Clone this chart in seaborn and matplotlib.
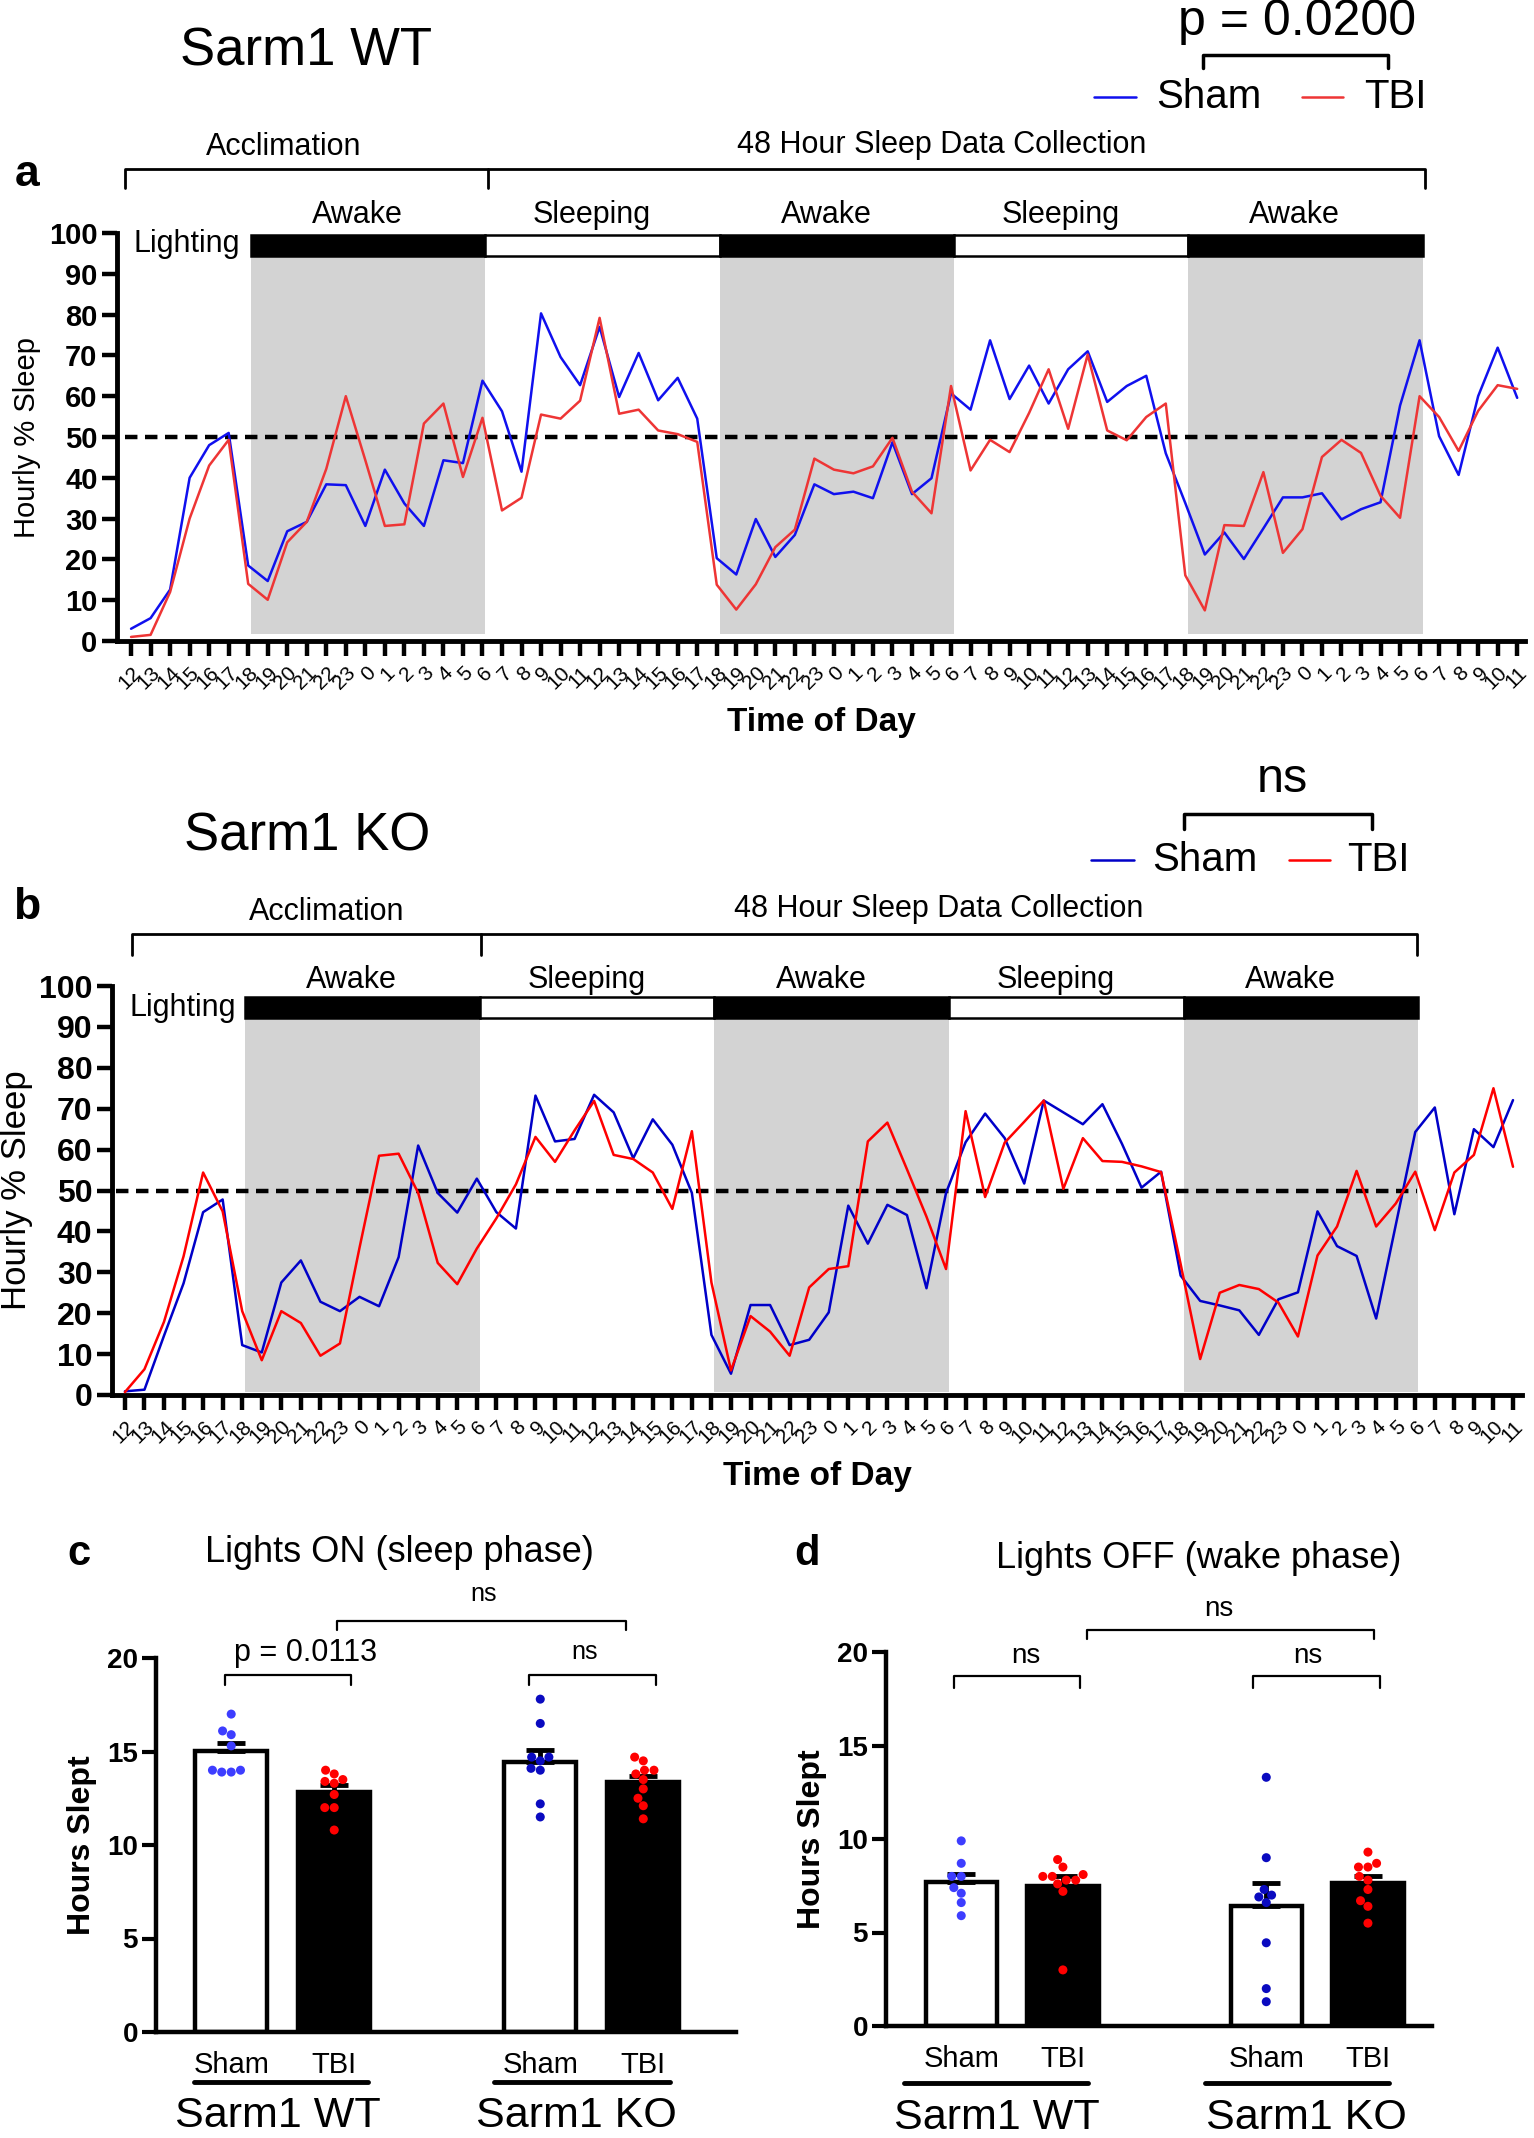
import numpy as np
import pandas as pd
import seaborn as sns
import matplotlib.pyplot as plt
import matplotlib.transforms as mtransforms
from matplotlib.patches import Rectangle
from matplotlib.lines import Line2D

# --- Data ---
HOURS = list(range(12, 24)) + list(range(24)) + list(range(24)) + list(range(12))

SHAM_WT = [3, 5.6, 12.6, 40, 48, 51, 18.5, 14.7, 26.9, 29.2, 38.4, 38.2, 28.2, 42, 33.7, 28.2, 44.3, 43.6,
           63.8, 56.3, 41.5, 80.3, 69.6, 62.7, 77, 59.8, 70.6, 59, 64.5, 54.5, 20.3, 16.3, 29.9, 20.6, 26, 38.4,
           36, 36.6, 35, 48.7, 36, 39.9, 60.7, 56.7, 73.7, 59.3, 67.5, 58.2, 66.6, 71, 58.6, 62.5, 65, 46,
           33.8, 21.2, 26.6, 20.1, 27.6, 35.2, 35.2, 36.2, 29.8, 32.3, 34, 57.7, 73.7, 50.2, 40.7, 60, 71.9, 59.6]
TBI_WT = [1, 1.5, 12, 30, 43, 49.3, 14, 10.1, 24.2, 29.2, 42.2, 60, 44.3, 28.2, 28.6, 53.3, 58.2, 40.2,
          54.7, 32, 35.1, 55.5, 54.5, 58.9, 79.2, 55.7, 56.7, 51.6, 50.7, 48.8, 13.8, 7.7, 13.9, 23, 27.3, 44.7,
          42, 41.1, 42.8, 49.8, 36.6, 31.3, 62.5, 41.8, 49.3, 46.3, 55.9, 66.6, 52, 70.2, 51.6, 49.2, 54.9, 58.2,
          16.1, 7.5, 28.4, 28.2, 41.4, 21.6, 27.4, 45.1, 49.3, 46.1, 35.6, 30.2, 60, 54.9, 46.6, 56.4, 62.7, 61.8]
SHAM_KO = [0.9, 1.3, 14.5, 27.3, 44.7, 47.8, 12.2, 10.4, 27.5, 32.9, 22.8, 20.5, 24, 21.7, 33.7, 61, 49.4, 44.6,
           52.9, 44.7, 40.7, 73.2, 62, 62.6, 73.4, 69.1, 57.9, 67.4, 61.2, 49.4, 14.7, 5.2, 22, 22, 12.2, 13.5,
           20.2, 46.3, 37, 46.5, 44, 26.1, 49.4, 61.8, 68.8, 62.8, 51.7, 72, 69.1, 66.2, 71.1, 61.4, 50.7, 54.6,
           29.2, 23, 21.9, 20.7, 14.7, 23.4, 25.1, 44.9, 36.4, 34, 18.7, 41.5, 64.3, 70.3, 44.2, 65, 60.6, 72.1]
TBI_KO = [0.7, 6.3, 17.9, 33.9, 54.4, 44.9, 20.5, 8.5, 20.5, 17.6, 9.6, 12.6, 36, 58.5, 59, 49.4, 32.3, 27.1,
          35.8, 43.2, 51.5, 63.1, 57, 64.7, 71.9, 58.7, 57.7, 54.4, 45.5, 64.5, 27.5, 6, 19.3, 15.5, 9.6, 26.3,
          30.8, 31.5, 62, 66.6, 55.2, 43.6, 30.8, 69.4, 48.4, 61.7, 66.8, 72, 50.4, 62.8, 57.2, 57, 55.9, 54.5,
          32, 8.8, 25, 26.9, 25.9, 22.6, 14.3, 34.1, 41.2, 54.8, 41.2, 46.8, 54.6, 40.3, 54.4, 58.7, 75, 55.8]

PHASES = ["Awake", "Sleeping", "Awake", "Sleeping", "Awake"]

# hours slept per mouse
ON_WT_SHAM = [17.0, 16.1, 15.9, 15.3, 13.9, 14.0, 13.9, 14.0]
ON_WT_TBI = [13.8, 14.0, 13.5, 13.4, 13.3, 12.7, 12.0, 12.0, 10.8]
ON_KO_SHAM = [17.8, 16.5, 14.7, 14.7, 14.5, 14.0, 14.1, 12.2, 11.5]
ON_KO_TBI = [14.5, 14.7, 14.0, 14.0, 13.8, 13.5, 13.0, 12.5, 12.1, 11.4]
OFF_WT_SHAM = [9.9, 8.7, 8.0, 8.0, 7.4, 7.1, 6.6, 5.9]
OFF_WT_TBI = [8.1, 8.5, 8.9, 7.8, 8.0, 8.0, 7.8, 7.2, 7.6, 3.0]
OFF_KO_SHAM = [13.3, 9.0, 7.3, 7.0, 6.9, 6.6, 4.45, 2.0, 1.3]
OFF_KO_TBI = [9.3, 8.7, 8.5, 8.5, 7.8, 8.0, 7.3, 6.7, 6.4, 5.5]

ORDER = ["WT Sham", "WT TBI", "", "KO Sham", "KO TBI"]
TICK_NAMES = ["Sham", "TBI", "", "Sham", "TBI"]

# --- Figure setup ---
sns.set_theme(style="ticks", rc={"axes.edgecolor": "black", "xtick.color": "black",
                                 "ytick.color": "black", "text.color": "black", "axes.labelcolor": "black"})
plt.rcParams['font.family'] = ['Liberation Sans', 'DejaVu Sans']

W, H = 1534, 2138
fig = plt.figure(figsize=(W / 100, H / 100), dpi=100)


def px_axes(left, top, right, bottom):
    return fig.add_axes([left / W, 1 - bottom / H, (right - left) / W, (bottom - top) / H])


def ftext(x, y, s, **kw):
    fig.text(x / W, 1 - y / H, s, **kw)


def fline(xs, ys, **kw):
    fig.add_artist(Line2D([x / W for x in xs], [1 - y / H for y in ys], **kw))


def time_panel(ax, sham, tbi, colors, opts):
    n = len(HOURS)
    df = pd.DataFrame({"pos": np.arange(n), "Sham": sham, "TBI": tbi})
    df = df.melt(id_vars="pos", var_name="group", value_name="sleep")

    start = 6.15
    grey_lo, grey_hi = opts["grey"]
    bar_lo, bar_hi = opts["bar"]
    for k, name in enumerate(PHASES):
        x0 = start + 12 * k
        if name == "Awake":
            ax.fill_between([x0, x0 + 12], grey_lo, grey_hi, color="#d3d3d3", lw=0, zorder=0)
        ax.add_patch(Rectangle((x0, bar_lo), 12, bar_hi - bar_lo,
                               facecolor="black" if name == "Awake" else "white",
                               edgecolor="black", lw=1.8, clip_on=False, zorder=3))
        ax.text(x0 + 5.45, opts["phase_y"], name, ha="center", va="center", fontsize=22, clip_on=False)
    ax.text(opts["light_x"], opts["light_y"], "Lighting", ha="left", va="center", fontsize=22)

    ax.plot(opts["dash"], [50, 50], color="black", lw=3.2, ls="--", dashes=(2.8, 1.7), zorder=2)

    sns.lineplot(data=df, x="pos", y="sleep", hue="group", palette=colors, lw=1.8,
                 legend=False, ax=ax, zorder=4)

    ax.set_xlim(opts["xlim"])
    ax.set_ylim(0, 100)
    ax.set_yticks(range(0, 101, 10))
    ax.set_xticks(np.arange(n))
    ax.set_xticklabels(HOURS, rotation=45, ha="right", va="top", rotation_mode="anchor", fontsize=15)
    for lab in ax.get_yticklabels():
        lab.set_fontweight("bold")
        lab.set_fontsize(opts["ytick_fs"])
    ax.tick_params(axis="both", direction="out", length=11, width=3.2)
    ax.tick_params(axis="x", pad=5)
    ax.tick_params(axis="y", pad=3)
    for side in ["top", "right"]:
        ax.spines[side].set_visible(False)
    for side in ["left", "bottom"]:
        ax.spines[side].set_linewidth(3.5)

    ax.set_xlabel("Time of Day", fontsize=24, fontweight="bold")
    ax.xaxis.set_label_coords(0.5, opts["xlabel_y"])
    ax.xaxis.label.set_verticalalignment("center")
    ax.set_ylabel("Hourly % Sleep", fontsize=opts["ylabel_fs"])
    ax.yaxis.set_label_coords(opts["ylabel_x"], 0.5)
    ax.yaxis.label.set_verticalalignment("center")

    # acclimation / collection brackets
    tr = mtransforms.blended_transform_factory(ax.transData, ax.transAxes)
    a0, a1, a2 = opts["brk_x"]
    by, bt = opts["brk_y"]
    ax.plot([a0, a0, a1], [bt, by, by], color="black", lw=2, transform=tr, clip_on=False)
    ax.plot([a1, a1, a2, a2], [bt, by, by, bt], color="black", lw=2, transform=tr, clip_on=False)
    (t0x, t0y), (t1x, t1y) = opts["brk_text"]
    ax.text(t0x, t0y, "Acclimation", ha="center", va="center", fontsize=22, transform=tr)
    ax.text(t1x, t1y, "48 Hour Sleep Data Collection", ha="center", va="center", fontsize=22,
            transform=tr)


# --- Panel a ---
ax_a = px_axes(117, 233, 1525, 641)
time_panel(ax_a, SHAM_WT, TBI_WT, {"Sham": "#1010ee", "TBI": "#ee3535"},
           dict(grey=(1.8, 94.3), bar=(94.4, 99.5), phase_y=104.4, light_x=0.15, light_y=97.3,
                dash=[-0.3, 66.2], xlim=(-0.72, 71.4), ytick_fs=21, xlabel_y=-0.2, ylabel_fs=21,
                ylabel_x=-0.064, brk_x=(-0.3, 18.3, 66.3), brk_y=(1.157, 1.11),
                brk_text=((7.8, 1.211), (41.5, 1.216))))

# --- Panel b ---
ax_b = px_axes(112, 986, 1522, 1395)
time_panel(ax_b, SHAM_KO, TBI_KO, {"Sham": "#0000c8", "TBI": "#ff0000"},
           dict(grey=(0.8, 92.0), bar=(92.1, 97.2), phase_y=101.5, light_x=0.25, light_y=94.6,
                dash=[-0.46, 66.1], xlim=(-0.66, 71.46), ytick_fs=23, xlabel_y=-0.2, ylabel_fs=25,
                ylabel_x=-0.068, brk_x=(0.35, 18.2, 66.1), brk_y=(1.127, 1.076),
                brk_text=((10.3, 1.181), (41.6, 1.188))))

# --- Headers for panels a and b ---
ftext(180, 52, "Sarm1 WT", fontsize=38, ha="left", va="center")
ftext(184, 836, "Sarm1 KO", fontsize=38, ha="left", va="center")
ftext(1297, 22, "p = 0.0200", fontsize=36, ha="center", va="center")
fline([1203, 1203, 1388, 1388], [68, 55, 55, 68], color="black", lw=2.5)
ftext(1282, 780, "ns", fontsize=35, ha="center", va="center")
fline([1184, 1184, 1372, 1372], [829, 814, 814, 829], color="black", lw=2.5)
for (y, xs, blue, red) in [(97, (1094, 1136, 1156, 1302, 1343, 1364), "#1010ee", "#ee3535"),
                           (860, (1091, 1134, 1152, 1289, 1330, 1347), "#0000c8", "#ff0000")]:
    fline([xs[0], xs[1]], [y, y], color=blue, lw=1.8)
    ftext(xs[2], y, "Sham", fontsize=29, ha="left", va="center")
    fline([xs[3], xs[4]], [y, y], color=red, lw=1.8)
    ftext(xs[5], y, "TBI", fontsize=29, ha="left", va="center")

ftext(27, 175, "a", fontsize=32, fontweight="bold", ha="center", va="center")
ftext(27, 908, "b", fontsize=32, fontweight="bold", ha="center", va="center")


# --- Bar panels ---
def bar_panel(ax, groups, dot_colors, opts):
    rows = []
    for name, vals in groups.items():
        rows += [{"group": name, "hours": v} for v in vals]
    df = pd.DataFrame(rows)
    bar_colors = {"WT Sham": "white", "WT TBI": "black", "KO Sham": "white", "KO TBI": "black"}

    sns.barplot(data=df, x="group", y="hours", order=ORDER, hue="group", palette=bar_colors,
                edgecolor="black", linewidth=3.2, errorbar=None, width=0.70, legend=False, ax=ax,
                zorder=2)
    stats = df.groupby("group")["hours"].agg(["mean", "sem"])
    for name in groups:
        xp = ORDER.index(name)
        ax.errorbar(xp, stats.loc[name, "mean"], yerr=[[0], [stats.loc[name, "sem"]]], fmt="none",
                    ecolor="black", elinewidth=3.5, capsize=10, capthick=3.5, zorder=4)
    sns.swarmplot(data=df, x="group", y="hours", order=ORDER, hue="group", palette=dot_colors,
                  size=6.5, legend=False, ax=ax, zorder=5)

    ax.set_xlim(opts["xlim"])
    ax.set_ylim(0, 20)
    ax.set_yticks([0, 5, 10, 15, 20])
    ax.set_xticks(range(len(ORDER)))
    ax.set_xticklabels(TICK_NAMES, fontsize=21)
    for lab in ax.get_yticklabels():
        lab.set_fontweight("bold")
        lab.set_fontsize(20)
    ax.tick_params(axis="y", direction="out", length=10, width=3, pad=3)
    ax.tick_params(axis="x", length=0, pad=14)
    for side in ["top", "right"]:
        ax.spines[side].set_visible(False)
    for side in ["left", "bottom"]:
        ax.spines[side].set_linewidth(3.2)
    ax.set_xlabel("")
    ax.set_ylabel("Hours Slept", fontsize=23, fontweight="bold")
    ax.yaxis.set_label_coords(opts["ylabel_x"], 0.5)
    ax.yaxis.label.set_verticalalignment("center")
    ax.text(opts["title_xy"][0], opts["title_xy"][1], opts["title"], fontsize=26, ha="center",
            va="center", transform=ax.transAxes)

    tr = mtransforms.blended_transform_factory(ax.transData, ax.transAxes)
    for (x0, x1, cx, label) in opts["groups"]:
        ax.plot([x0, x1], [opts["line_y"]] * 2, color="black", lw=3.5, transform=tr, clip_on=False)
        ax.text(cx, opts["label_y"], label, ha="center", va="center", fontsize=31, transform=tr)

    for (x0, x1, y, h, txt, tx, ty, fs) in opts["brackets"]:
        ax.plot([x0, x0, x1, x1], [y - h, y, y, y - h], color="black", lw=1.6, clip_on=False)
        ax.text(tx, ty, txt, ha="center", va="center", fontsize=fs, clip_on=False)


ax_c = px_axes(156, 1658, 736, 2032)
bar_panel(ax_c, {"WT Sham": ON_WT_SHAM, "WT TBI": ON_WT_TBI, "KO Sham": ON_KO_SHAM, "KO TBI": ON_KO_TBI},
          {"WT Sham": "#3d3dff", "WT TBI": "#ff0000", "KO Sham": "#0a0ac0", "KO TBI": "#ff0000"},
          dict(xlim=(-0.73, 4.9), ylabel_x=-0.128, title="Lights ON (sleep phase)",
               title_xy=(0.42, 1.283), line_y=-0.134, label_y=-0.225,
               groups=[(-0.36, 1.33, 0.45, "Sarm1 WT"), (2.55, 4.26, 3.35, "Sarm1 KO")],
               brackets=[(-0.06, 1.16, 19.1, 0.55, "p = 0.0113", 0.72, 20.25, 22),
                         (2.89, 4.12, 19.1, 0.55, "ns", 3.43, 20.3, 18),
                         (1.03, 3.83, 22.0, 0.5, "ns", 2.45, 23.4, 18)]))

ax_d = px_axes(886, 1652, 1432, 2026)
bar_panel(ax_d, {"WT Sham": OFF_WT_SHAM, "WT TBI": OFF_WT_TBI, "KO Sham": OFF_KO_SHAM, "KO TBI": OFF_KO_TBI},
          {"WT Sham": "#3d3dff", "WT TBI": "#ff0000", "KO Sham": "#0a0ac0", "KO TBI": "#ff0000"},
          dict(xlim=(-0.74, 4.63), ylabel_x=-0.135, title="Lights OFF (wake phase)",
               title_xy=(0.573, 1.249), line_y=-0.152, label_y=-0.245,
               groups=[(-0.56, 1.25, 0.35, "Sarm1 WT"), (2.40, 4.21, 3.39, "Sarm1 KO")],
               brackets=[(-0.07, 1.17, 18.7, 0.6, "ns", 0.64, 19.8, 20),
                         (2.87, 4.12, 18.7, 0.6, "ns", 3.41, 19.8, 20),
                         (1.24, 4.06, 21.2, 0.5, "ns", 2.53, 22.3, 20)]))

ftext(79, 1554, "c", fontsize=30, fontweight="bold", ha="center", va="center")
ftext(807, 1554, "d", fontsize=30, fontweight="bold", ha="center", va="center")

fig.savefig("out.png", dpi=100)
